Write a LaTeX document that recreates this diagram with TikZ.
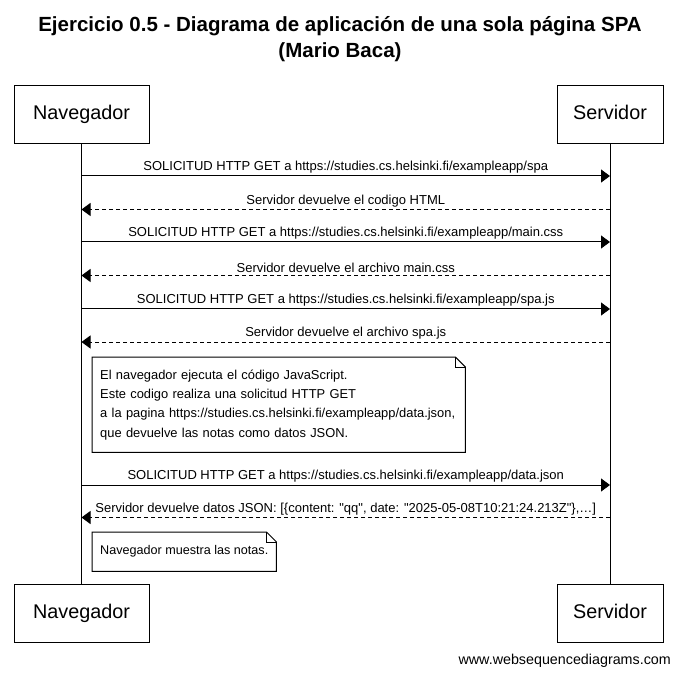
\documentclass[tikz,border=0pt]{standalone}
\usepackage{fontspec}
\setmainfont{Liberation Sans}[Ligatures=TeXOff]
\usetikzlibrary{arrows.meta}
\begin{document}
\begin{tikzpicture}[x=1pt,y=-1pt,
  actor/.style={draw, line width=1pt, minimum height=58pt, inner sep=0pt, text height=14pt, text depth=4pt, font=\fontsize{19.8}{22}\selectfont},
  life/.style={line width=1pt},
  msg/.style={line width=1pt, -{Triangle[length=9pt,width=13pt]}},
  ret/.style={msg, dash pattern=on 4pt off 3pt},
  lbl/.style={above, inner sep=2pt, font=\fontsize{13}{15}\selectfont},
  notetext/.style={inner xsep=8pt, inner ysep=0pt, align=left, anchor=north west, font=\fontsize{12.9}{19.3}\selectfont},
  notebox/.style={line width=1pt, fill=white}
]
\useasboundingbox (0,0) rectangle (680,676);
% title
\node[font=\bfseries\fontsize{20.5}{26}\selectfont, align=center] (title) at (340,39) {Ejercicio 0.5 - Diagrama de aplicación de una sola página SPA\\(Mario Baca)};
% actors
\node[actor, minimum width=135pt] (navtop) at (81.5,115) {Navegador};
\node[actor, minimum width=106pt] (servtop) at (610,115) {Servidor};
\node[actor, minimum width=135pt] (navbot) at (81.5,613) {Navegador};
\node[actor, minimum width=106pt] (servbot) at (610,613) {Servidor};
\draw[life] (navtop.south) -- (navbot.north);
\draw[life] (servtop.south) -- (servbot.north);
% message coordinates
\foreach \i/\y in {1/176,2/209.5,3/242,4/275.5,5/309,6/342,7/485,8/517.5}{
  \coordinate (n\i) at (81.5,\y);
  \coordinate (s\i) at (610,\y);
}
\draw[msg] (n1) -- node[lbl] (m1) {SOLICITUD HTTP GET a https://studies.cs.helsinki.fi/exampleapp/spa} (s1);
\draw[ret] (s2) -- node[lbl] (m2) {Servidor devuelve el codigo HTML} (n2);
\draw[msg] (n3) -- node[lbl] (m3) {SOLICITUD HTTP GET a https://studies.cs.helsinki.fi/exampleapp/main.css} (s3);
\draw[ret] (s4) -- node[lbl] (m4) {Servidor devuelve el archivo main.css} (n4);
\draw[msg] (n5) -- node[lbl] (m5) {SOLICITUD HTTP GET a https://studies.cs.helsinki.fi/exampleapp/spa.js} (s5);
\draw[ret] (s6) -- node[lbl] (m6) {Servidor devuelve el archivo spa.js} (n6);
% note 1
\node[notetext, text width=357pt, minimum height=95pt] (note1) at (92,357) {El navegador ejecuta el código JavaScript.\\Este codigo realiza una solicitud HTTP GET\\a la pagina https://studies.cs.helsinki.fi/exampleapp/data.json,\\que devuelve las notas como datos JSON.};
\draw[notebox] (note1.north west) -- ([xshift=-10pt]note1.north east) -- ([yshift=-10pt]note1.north east) -- (note1.south east) -- (note1.south west) -- cycle;
\draw[line width=0.8pt] ([xshift=-10pt]note1.north east) |- ([yshift=-10pt]note1.north east);
\node[notetext, text width=357pt, minimum height=95pt] at (92,357) {El navegador ejecuta el código JavaScript.\\Este codigo realiza una solicitud HTTP GET\\a la pagina https://studies.cs.helsinki.fi/exampleapp/data.json,\\que devuelve las notas como datos JSON.};
\draw[msg] (n7) -- node[lbl] (m7) {SOLICITUD HTTP GET a https://studies.cs.helsinki.fi/exampleapp/data.json} (s7);
\draw[ret] (s8) -- node[lbl] (m8) {Servidor devuelve datos JSON: [\{content: "qq", date: "2025-05-08T10:21:24.213Z"\},…]} (n8);
% note 2
\node[notetext, font=\fontsize{12.6}{19.3}\selectfont, minimum height=39pt] (note2) at (92,532) {Navegador muestra las notas.};
\draw[notebox] (note2.north west) -- ([xshift=-10pt]note2.north east) -- ([yshift=-10pt]note2.north east) -- (note2.south east) -- (note2.south west) -- cycle;
\draw[line width=0.8pt] ([xshift=-10pt]note2.north east) |- ([yshift=-10pt]note2.north east);
\node[notetext, font=\fontsize{12.6}{19.3}\selectfont, minimum height=39pt] at (92,532) {Navegador muestra las notas.};
% footer
\node[anchor=east, inner sep=0pt, font=\fontsize{14.3}{16}\selectfont] (footer) at (671,661) {www.websequencediagrams.com};
\end{tikzpicture}
\end{document}
